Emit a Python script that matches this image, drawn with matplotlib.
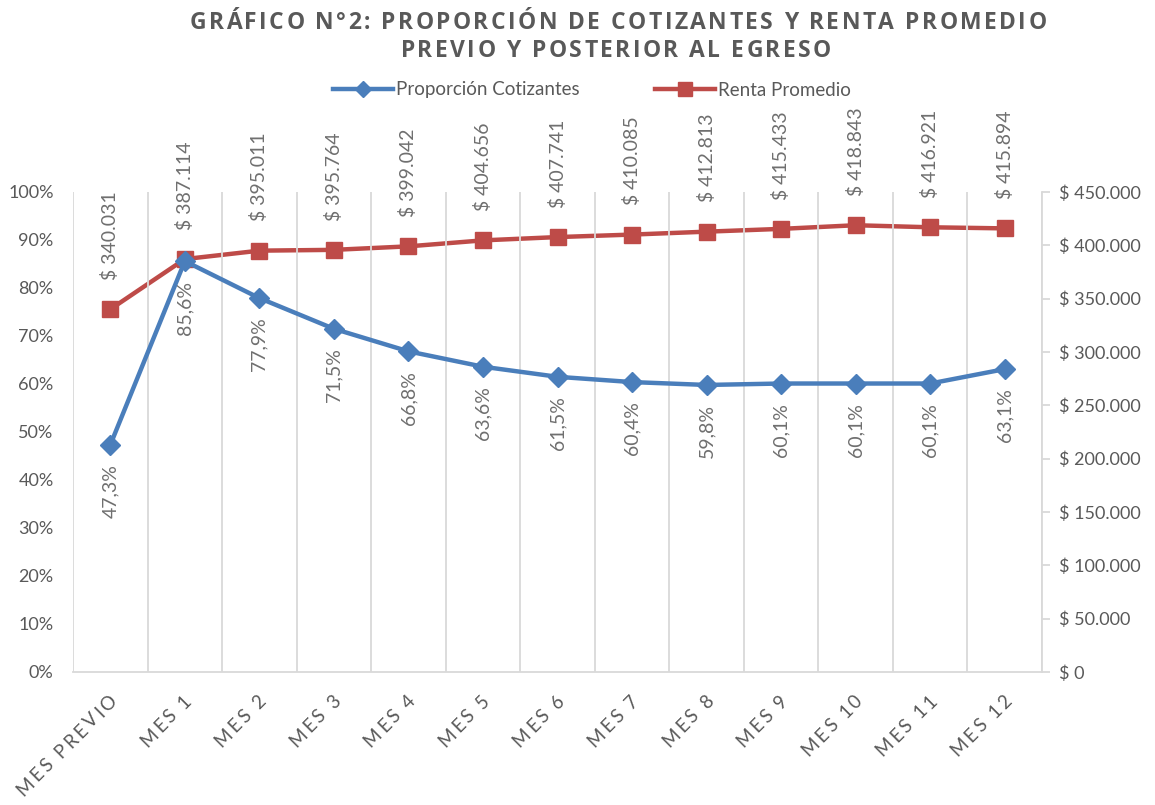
import numpy as np
import matplotlib
matplotlib.use("Agg")
import matplotlib.pyplot as plt
from matplotlib.ticker import FuncFormatter, MultipleLocator

categorias = ["MES PREVIO", "MES 1", "MES 2", "MES 3", "MES 4", "MES 5", "MES 6",
              "MES 7", "MES 8", "MES 9", "MES 10", "MES 11", "MES 12"]
proporcion = [47.3, 85.6, 77.9, 71.5, 66.8, 63.6, 61.5, 60.4, 59.8, 60.1, 60.1, 60.1, 63.1]
renta = [340031, 387114, 395011, 395764, 399042, 404656, 407741, 410085,
         412813, 415433, 418843, 416921, 415894]
titulo = ["GRÁFICO N°2: PROPORCIÓN DE COTIZANTES Y RENTA PROMEDIO",
          "PREVIO Y POSTERIOR AL EGRESO"]

plt.rcParams['font.family'] = ['Lato', 'DejaVu Sans']
gris = '#595959'
gris_dato = '#6F6F6F'
azul = '#4A7EBB'
rojo = '#BE4B48'
linea = '#D9D9D9'

W, H = 1155, 805
fig = plt.figure(figsize=(W / 100, H / 100), dpi=100)
renderer = fig.canvas.get_renderer()


def miles(v):
    return "$ " + f"{int(round(v)):,}".replace(",", ".")


def ancho(texto, **kw):
    t = fig.text(0, 0, texto, **kw)
    w = t.get_window_extent(renderer).width
    t.remove()
    return w


def anchos(texto, **kw):
    base = ancho("||", **kw)
    return [ancho("|" + c + "|", **kw) - base for c in texto]


# text with letter spacing, drawn one character at a time (pixel coords)
def espaciado(x_px, y_px, texto, espacio, angulo=0, ha='center', va='baseline', **kw):
    ws = anchos(texto, **kw)
    total = sum(ws) + espacio * (len(texto) - 1)
    inicio = {'center': -total / 2, 'right': -total, 'left': 0}[ha]
    c, s = np.cos(np.radians(angulo)), np.sin(np.radians(angulo))
    pos = inicio
    for ch, w in zip(texto, ws):
        fig.text((x_px + pos * c) / W, (y_px + pos * s) / H, ch, rotation=angulo,
                 rotation_mode='anchor', ha='left', va=va, **kw)
        pos += w + espacio


ax = fig.add_axes([73 / W, 1 - 672 / H, (1042 - 73) / W, (672 - 192) / H])
ax2 = ax.twinx()

x = np.arange(len(categorias))

l1, = ax.plot(x, proporcion, color=azul, lw=3.2, marker='D', ms=10.5,
              label='Proporción Cotizantes', zorder=3)
l2, = ax2.plot(x, renta, color=rojo, lw=3.2, marker='s', ms=12,
               label='Renta Promedio', zorder=3)

ax.set_xlim(-0.5, len(categorias) - 0.5)
ax.set_ylim(0, 100)
ax2.set_ylim(0, 450000)
ax.yaxis.set_major_locator(MultipleLocator(10))
ax2.yaxis.set_major_locator(MultipleLocator(50000))
ax.yaxis.set_major_formatter(FuncFormatter(lambda v, p: f"{int(v)}%"))
ax2.yaxis.set_major_formatter(FuncFormatter(lambda v, p: miles(v)))

# vertical lines between categories
for b in np.arange(-0.5, len(categorias) - 0.4, 1):
    ax.axvline(b, color=linea, lw=1.3, zorder=0)

for a in (ax, ax2):
    for s in ('top', 'left'):
        a.spines[s].set_visible(False)
ax.spines['right'].set_visible(False)
ax2.spines['bottom'].set_visible(False)
ax.spines['bottom'].set_color(linea)
ax.spines['bottom'].set_linewidth(1.3)
ax2.spines['right'].set_color(linea)
ax2.spines['right'].set_linewidth(1.3)

ax.tick_params(axis='y', length=0, labelsize=13, labelcolor=gris, pad=14)
ax2.tick_params(axis='y', length=6, color=linea, width=1.3, labelsize=13,
                labelcolor=gris, pad=6)
ax.set_xticks(x)
ax.set_xticklabels([])
ax.tick_params(axis='x', length=0)

ax.set_zorder(ax2.get_zorder() + 1)
ax.patch.set_visible(False)

for xi, p in zip(x, proporcion):
    ax.annotate(f"{p:.1f}%".replace(".", ","), (xi, p), xytext=(0, -14),
                textcoords='offset points', rotation=90, ha='center', va='top',
                fontsize=14, color=gris_dato)
for xi, r in zip(x, renta):
    ax2.annotate(miles(r), (xi, r), xytext=(0, 21), textcoords='offset points',
                 rotation=90, ha='center', va='bottom', fontsize=14, color=gris_dato)

# category labels, rotated and letter spaced
for xi, cat in zip(x, categorias):
    px, _ = ax.transData.transform((xi, 0))
    espaciado(px - 2, H - 692, cat, 2.6, angulo=45, ha='right', va='top',
              fontsize=13.5, color=gris)

# title, letter spaced
tkw = dict(fontsize=16.5, fontweight='bold', color=gris, family=['Open Sans', 'DejaVu Sans'])
ws = anchos(titulo[0], **tkw)
esp = (857 - sum(ws)) / (len(titulo[0]) - 1)
espaciado(618, H - 29, titulo[0], esp, **tkw)
espaciado(616, H - 57, titulo[1], esp, **tkw)

fig.legend(handles=[l1, l2], loc='center', bbox_to_anchor=(592 / W, 1 - 90 / H), ncol=2,
           frameon=False, fontsize=13.5, labelcolor=gris, handlelength=3.2,
           columnspacing=4.0, handletextpad=0.15, markerscale=0.8)

fig.savefig("out.png", dpi=100)
